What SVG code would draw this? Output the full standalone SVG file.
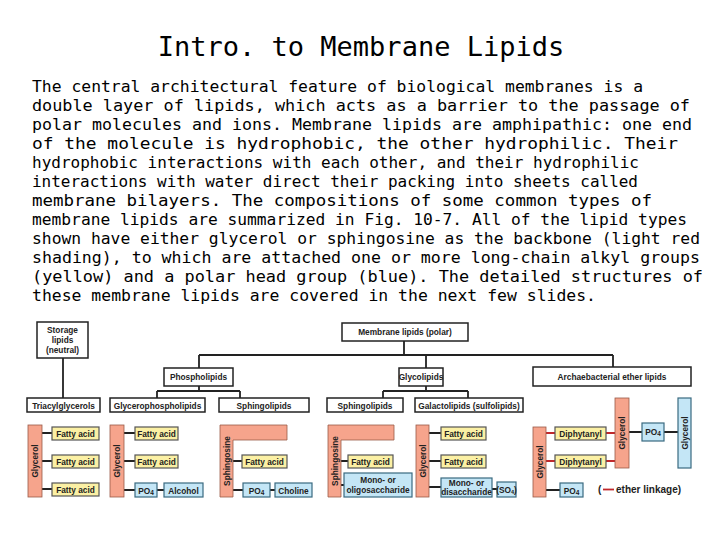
<svg xmlns="http://www.w3.org/2000/svg" width="720" height="540" viewBox="0 0 720 540">
<style>
.t{font-family:"DejaVu Sans Mono",monospace;font-size:16.5px;fill:#000}
.b{fill:#fff;stroke:#222;stroke-width:1.5}
.l{font-family:"Liberation Sans",Arial,sans-serif;font-size:8.3px;font-weight:bold;fill:#222;text-anchor:middle}
.s{fill:#f6a48c;stroke:#9a5a48;stroke-width:0.8}
.y{fill:#fbf0a4;stroke:#555;stroke-width:1.2}
.u{fill:#c4e6f6;stroke:#3a6a80;stroke-width:1.2}
.c{stroke:#222;stroke-width:1.8;fill:none}
.r{stroke:#c0282c;stroke-width:1.8;fill:none}
</style>
<rect width="720" height="540" fill="#fff"/>
<text x="361" y="56" text-anchor="middle" style="font-family:'DejaVu Sans Mono',monospace;font-size:27px">Intro. to Membrane Lipids</text>
<g class="t">
<text x="32" y="92" textLength="611" lengthAdjust="spacingAndGlyphs">The central architectural feature of biological membranes is a</text>
<text x="32" y="111" textLength="658" lengthAdjust="spacingAndGlyphs">double layer of lipids, which acts as a barrier to the passage of</text>
<text x="32" y="130" textLength="660" lengthAdjust="spacingAndGlyphs">polar molecules and ions. Membrane lipids are amphipathic: one end</text>
<text x="32" y="149" textLength="646" lengthAdjust="spacingAndGlyphs">of the molecule is hydrophobic, the other hydrophilic. Their</text>
<text x="32" y="168" textLength="607" lengthAdjust="spacingAndGlyphs">hydrophobic interactions with each other, and their hydrophilic</text>
<text x="32" y="187" textLength="606" lengthAdjust="spacingAndGlyphs">interactions with water direct their packing into sheets called</text>
<text x="32" y="206" textLength="620" lengthAdjust="spacingAndGlyphs">membrane bilayers. The compositions of some common types of</text>
<text x="32" y="225" textLength="655" lengthAdjust="spacingAndGlyphs">membrane lipids are summarized in Fig. 10-7. All of the lipid types</text>
<text x="32" y="244" textLength="668" lengthAdjust="spacingAndGlyphs">shown have either glycerol or sphingosine as the backbone (light red</text>
<text x="32" y="263" textLength="668" lengthAdjust="spacingAndGlyphs">shading), to which are attached one or more long-chain alkyl groups</text>
<text x="32" y="282" textLength="671" lengthAdjust="spacingAndGlyphs">(yellow) and a polar head group (blue). The detailed structures of</text>
<text x="32" y="301" textLength="564" lengthAdjust="spacingAndGlyphs">these membrane lipids are covered in the next few slides.</text>
</g>
<g id="connectors">
<path class="c" d="M63 358V398M404 341V355M199 355H613M199 355V368M426 355V368M613 355V367M199 386V391M157 391H240M157 391V398M240 391V398M426 386V391M383 391H468M383 391V398M468 391V398"/>
<path class="c" d="M42 433H52M42 461H52M42 489H52M124 433H135M124 461H135M124 490H135M157 490H164M233 461H242M233 490H243M270 490H275M341 461H348M341 485H344M429 433H441M429 461H441M429 487H441M492 489H497M546 490H560M629 432H642M664 432H678"/>
<path class="r" d="M546 433H555M546 461H555M606 433H615M606 461H615"/>
</g>
<g id="storage"><rect class="b" x="37" y="322" width="51" height="36"/><text class="l" x="62.5" y="333">Storage</text><text class="l" x="62.5" y="343">lipids</text><text class="l" x="62.5" y="353">(neutral)</text></g>
<g id="membrane"><rect class="b" x="342" y="323" width="126" height="18"/><text class="l" x="405" y="335">Membrane lipids (polar)</text></g>
<g id="phospho"><rect class="b" x="164" y="368" width="69" height="18"/><text class="l" x="198.5" y="380">Phospholipids</text></g>
<g id="glyco"><rect class="b" x="399" y="368" width="44" height="18"/><text class="l" x="421" y="380" font-size="7.8">Glycolipids</text></g>
<g id="archae"><rect class="b" x="533" y="367" width="158" height="19"/><text class="l" x="612" y="380">Archaebacterial ether lipids</text></g>
<g id="triacyl"><rect class="b" x="27" y="398" width="73" height="14"/><text class="l" x="63.5" y="408.5" font-size="7.8">Triacylglycerols</text></g>
<g id="glycerophos"><rect class="b" x="110" y="398" width="95" height="14"/><text class="l" x="157.5" y="408.5" font-size="7.8">Glycerophospholipids</text></g>
<g id="sphingo1"><rect class="b" x="219" y="398" width="90" height="14"/><text class="l" x="264" y="408.5">Sphingolipids</text></g>
<g id="sphingo2"><rect class="b" x="327" y="398" width="76" height="14"/><text class="l" x="365" y="408.5">Sphingolipids</text></g>
<g id="galacto"><rect class="b" x="415" y="398" width="108" height="14"/><text class="l" x="469" y="408.5" font-size="7.8">Galactolipids (sulfolipids)</text></g>
<g id="s-triacyl">
<rect class="s" x="28" y="425" width="14" height="72"/><text class="l" transform="translate(38 461) rotate(-90)">Glycerol</text>
<rect class="y" x="52" y="427" width="47" height="13"/><text class="l" x="75.5" y="436.8">Fatty acid</text>
<rect class="y" x="52" y="455" width="47" height="13"/><text class="l" x="75.5" y="464.8">Fatty acid</text>
<rect class="y" x="52" y="483" width="47" height="13"/><text class="l" x="75.5" y="492.8">Fatty acid</text>
</g>
<g id="s-glycerophos">
<rect class="s" x="110" y="425" width="14" height="72"/><text class="l" transform="translate(120 461) rotate(-90)">Glycerol</text>
<rect class="y" x="135" y="427" width="43" height="13"/><text class="l" x="156.5" y="436.8">Fatty acid</text>
<rect class="y" x="135" y="455" width="43" height="13"/><text class="l" x="156.5" y="464.8">Fatty acid</text>
<rect class="u" x="135" y="483" width="22" height="14"/><text class="l" x="146" y="493.5">PO<tspan font-size="6.5" dy="1">4</tspan></text>
<rect class="u" x="164" y="483" width="39" height="14"/><text class="l" x="183.5" y="493.5" font-size="9.5">Alcohol</text>
</g>
<g id="s-sphingo1">
<path class="s" d="M220 425H287V440H233V497H220Z"/><text class="l" transform="translate(229.5 461) rotate(-90)">Sphingosine</text>
<rect class="y" x="242" y="455" width="45" height="13"/><text class="l" x="264.5" y="464.8">Fatty acid</text>
<rect class="u" x="243" y="483" width="27" height="14"/><text class="l" x="256.5" y="493.5">PO<tspan font-size="6.5" dy="1">4</tspan></text>
<rect class="u" x="275" y="483" width="37" height="14"/><text class="l" x="293.5" y="493.5">Choline</text>
</g>
<g id="s-sphingo2">
<path class="s" d="M328 425H394V440H341V497H328Z"/><text class="l" transform="translate(337.5 461) rotate(-90)">Sphingosine</text>
<rect class="y" x="348" y="455" width="45" height="13"/><text class="l" x="370.5" y="464.8">Fatty acid</text>
<rect class="u" x="344" y="473" width="68" height="24"/><text class="l" x="378" y="483">Mono- or</text><text class="l" x="378" y="493">oligosaccharide</text>
</g>
<g id="s-galacto">
<rect class="s" x="416" y="425" width="13" height="72"/><text class="l" transform="translate(425.5 461) rotate(-90)">Glycerol</text>
<rect class="y" x="441" y="427" width="45" height="13"/><text class="l" x="463.5" y="436.8">Fatty acid</text>
<rect class="y" x="441" y="455" width="45" height="13"/><text class="l" x="463.5" y="464.8">Fatty acid</text>
<rect class="u" x="441" y="478" width="51" height="19"/><text class="l" x="466.5" y="486" font-size="7.5">Mono- or</text><text class="l" x="466.5" y="494.5" font-size="7.5">disaccharide</text>
<rect class="u" x="497" y="482" width="19" height="15"/><text class="l" x="506.5" y="492.5" font-size="7">(SO<tspan font-size="5.5" dy="1">4</tspan><tspan dy="-1">)</tspan></text>
</g>
<g id="s-archae">
<rect class="s" x="533" y="427" width="13" height="70"/><text class="l" transform="translate(542.5 462) rotate(-90)">Glycerol</text>
<rect class="y" x="555" y="427" width="51" height="13"/><text class="l" x="580.5" y="436.8">Diphytanyl</text>
<rect class="y" x="555" y="455" width="51" height="13"/><text class="l" x="580.5" y="464.8">Diphytanyl</text>
<rect class="s" x="615" y="398" width="14" height="70"/><text class="l" transform="translate(625 433) rotate(-90)">Glycerol</text>
<rect class="u" x="642" y="423" width="22" height="18"/><text class="l" x="653" y="435">PO<tspan font-size="6.5" dy="1">4</tspan></text>
<rect class="u" x="678" y="398" width="13" height="70"/><text class="l" transform="translate(687.5 433) rotate(-90)">Glycerol</text>
<rect class="u" x="560" y="483" width="23" height="14"/><text class="l" x="571.5" y="493.5">PO<tspan font-size="6.5" dy="1">4</tspan></text>
<text x="598" y="493" style="font-family:'Liberation Sans',Arial,sans-serif;font-size:10px;font-weight:bold;fill:#222">(</text>
<line class="r" x1="603" y1="489.5" x2="614" y2="489.5"/>
<text x="616" y="493" style="font-family:'Liberation Sans',Arial,sans-serif;font-size:10px;font-weight:bold;fill:#222">ether linkage)</text>
</g>
</svg>
